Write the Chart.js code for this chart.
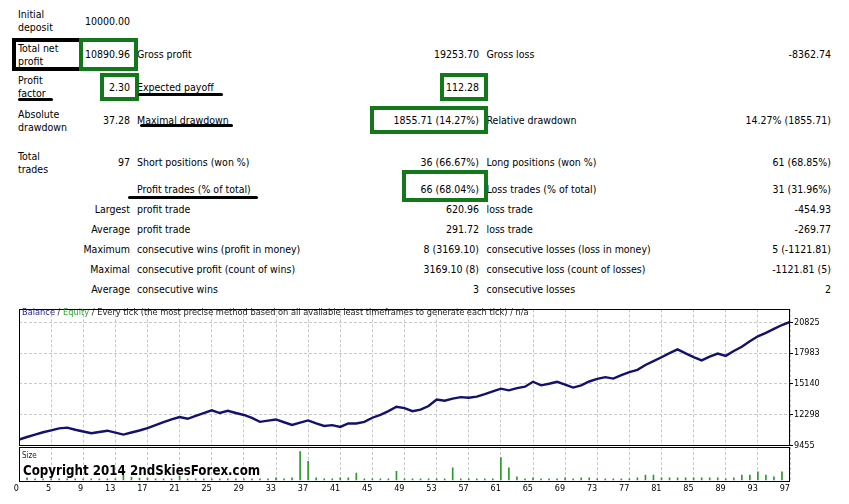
<!DOCTYPE html>
<html>
<head>
<meta charset="utf-8">
<script src="https://cdn.jsdelivr.net/npm/chart.js@4.4.1/dist/chart.umd.min.js"></script>
<style>
  body { margin: 0; background: #fff; width: 849px; height: 504px; position: relative; overflow: hidden;
         font-family: "DejaVu Sans Condensed", "Liberation Sans", sans-serif; color: #000; }
  .t { position: absolute; font-size: 10.5px; line-height: 12.6px; white-space: nowrap; }
  .box { position: absolute; box-sizing: border-box; border: 4px solid #13781a; }
  .bbox { position: absolute; box-sizing: border-box; border: 4px solid #000; border-right: none; }
  .ul { position: absolute; height: 3px; background: #000; border-radius: 2px; }
  canvas { position: absolute; left: 0; }
</style>
</head>
<body>
<div id="report"></div>
<canvas id="balanceChart" width="849" height="153" style="top:303px"></canvas>
<canvas id="sizeChart" width="849" height="53" style="top:447px"></canvas>
<div class="t" style="left:22px;top:306px;font-size:9.2px;line-height:11px;color:#1a1a1a" id="title">
  <span style="color:#24248a">Balance</span> / <span style="color:#3aa53a">Equity</span> / Every tick (the most precise method based on all available least timeframes to generate each tick) / n/a
</div>
<div class="t" style="left:22px;top:451px;font-size:8px;line-height:10px;color:#222">Size</div>
<div class="t" id="copy" style="left:23px;top:461px;font-size:14.5px;line-height:18px;font-weight:bold;transform:scaleX(0.91);transform-origin:0 50%">Copyright 2014 2ndSkiesForex.com</div>

<script>
// balance after each trade (trade 1..97)
const balance = [
  10000, 10238, 10466, 10679, 10855, 11040, 11100, 10908, 10748, 10588,
  10702, 10820, 10635, 10465, 10654, 10841, 11056, 11335, 11609, 11868,
  12085, 11920, 12180, 12440, 12705, 12450, 12650, 12450, 12270, 12000,
  11640, 11750, 11855, 11600, 11350, 11560, 11765, 11500, 11260, 11330,
  11170, 11490, 11490, 11640, 12015, 12290, 12630, 13030, 12900, 12620,
  12760, 13100, 13700, 13590, 13780, 13920, 13860, 13960, 14185, 14440,
  14700, 14540, 14750, 14880, 15335, 15005, 15150, 15330, 15080, 14800,
  15005, 15360, 15600, 15760, 15625, 15955, 16230, 16440, 16885, 17240,
  17600, 17975, 18320, 17950, 17610, 17310, 17650, 17930, 17725, 18180,
  18570, 19070, 19530, 19850, 20220, 20570, 20850
];
// position size per trade
const lots = [
  0.1, 0.2, 0.1, 0.1, 0.1, 0.1, 0.1, 0.1, 0.1, 0.1,
  0.1, 0.1, 0.1, 0.5, 0.27, 0.17, 0.17, 0.1, 0.1, 0.1,
  0.37, 0.1, 0.1, 0.1, 0.1, 0.1, 0.1, 0.1, 0.1, 0.1,
  0.1, 0.1, 0.2, 0.1, 0.2, 2.75, 1.8, 0.2, 0.1, 0.1,
  0.2, 0.2, 0.67, 0.1, 0.1, 0.1, 0.1, 0.83, 0.1, 0.1,
  0.1, 0.1, 0.1, 0.1, 1.17, 0.1, 0.1, 0.1, 0.1, 0.1,
  2.17, 1.17, 0.3, 0.1, 0.2, 0.1, 0.1, 0.1, 0.2, 0.1,
  0.2, 0.2, 0.1, 0.1, 0.1, 0.1, 0.1, 0.2, 0.47, 0.47,
  0.2, 0.2, 0.2, 0.2, 0.2, 0.2, 0.2, 0.2, 0.1, 0.2,
  0.47, 0.47, 0.8, 0.47, 0.3, 0.8, 0.3
];
const xTickLabels = ['0','5','9','13','17','21','25','29','33','37','41','45','49','53','57','61','65','69','73','77','81','85','89','93','97'];
const yTickValues = [9455, 12298, 15140, 17983, 20825];

// report rows: [y, leftLabel, value, midLabel, midValue, rightLabel, rightValue]
const rows = [
  [21,  'Initial|deposit',   '10000.00', '', '', '', ''],
  [54.5,'Total net|profit',  '10890.96', 'Gross profit', '19253.70', 'Gross loss', '-8362.74'],
  [87,  'Profit|factor',     '2.30', 'Expected payoff', '112.28', '', ''],
  [120.5,'Absolute|drawdown','37.28', 'Maximal drawdown', '1855.71 (14.27%)', 'Relative drawdown', '14.27% (1855.71)'],
  [162.5,'Total|trades',     '97', 'Short positions (won %)', '36 (66.67%)', 'Long positions (won %)', '61 (68.85%)'],
  [189, '', '', 'Profit trades (% of total)', '66 (68.04%)', 'Loss trades (% of total)', '31 (31.96%)'],
  [209, '', 'Largest', 'profit trade', '620.96', 'loss trade', '-454.93'],
  [229, '', 'Average', 'profit trade', '291.72', 'loss trade', '-269.77'],
  [249, '', 'Maximum', 'consecutive wins (profit in money)', '8 (3169.10)', 'consecutive losses (loss in money)', '5 (-1121.81)'],
  [269, '', 'Maximal', 'consecutive profit (count of wins)', '3169.10 (8)', 'consecutive loss (count of losses)', '-1121.81 (5)'],
  [289, '', 'Average', 'consecutive wins', '3', 'consecutive losses', '2']
];

const report = document.getElementById('report');
function put(text, x, y, right) {
  if (!text) return;
  const d = document.createElement('div');
  d.className = 't';
  d.textContent = text;
  d.style.top = (y - 6.3) + 'px';
  if (right) d.style.right = (849 - x) + 'px';
  else d.style.left = x + 'px';
  report.appendChild(d);
}
rows.forEach(r => {
  const [y, lab, val, m, mv, rl, rv] = r;
  if (lab) {
    const parts = lab.split('|');
    put(parts[0], 18, y - 6.3);
    put(parts[1], 18, y + 6.3);
  }
  put(val, 130, y, true);
  put(m, 137, y);
  put(mv, 479, y, true);
  put(rl, 486.5, y);
  put(rv, 831, y, true);
});

// highlight marks drawn over the report
function mark(cls, x, y, w, h) {
  const d = document.createElement('div');
  d.className = cls;
  Object.assign(d.style, { left: x + 'px', top: y + 'px', width: w + 'px', height: h + 'px' });
  report.appendChild(d);
}
mark('bbox', 12, 37.5, 70, 33);
mark('box', 79, 37.5, 59, 33);
mark('box', 100, 73, 39, 28);
mark('box', 440, 73, 48, 27.5);
mark('box', 370, 105.5, 118, 28);
mark('box', 402, 170, 86, 32);
mark('ul', 18, 97.5, 35, 3);
mark('ul', 138, 93, 85, 3);
mark('ul', 140, 124, 93, 3);
mark('ul', 128, 195.5, 130, 3);

const FONT = '"DejaVu Sans Condensed", "Liberation Sans", sans-serif';
const xTickPos = xTickLabels.map(l => Math.max(Number(l), 1));

const frame = {
  id: 'frame',
  afterDraw(chart) {
    const { ctx, chartArea: a } = chart;
    ctx.save();
    ctx.strokeStyle = '#000';
    ctx.lineWidth = 1;
    const x0 = Math.floor(a.left) + 0.5, y0 = Math.floor(a.top) + 0.5;
    const x1 = Math.ceil(a.right) - 0.5, y1 = Math.ceil(a.bottom) - 0.5;
    ctx.strokeRect(x0, y0, x1 - x0, y1 - y0);
    ctx.restore();
  }
};

const gridStyle = { color: '#c8c8c8', lineWidth: 1 };

new Chart(document.getElementById('balanceChart'), {
  type: 'line',
  data: {
    datasets: [{
      label: 'Balance',
      data: balance.map((v, i) => ({ x: i + 1, y: v })),
      borderColor: '#12126e',
      borderWidth: 2.4,
      pointRadius: 0,
      tension: 0,
      fill: false
    }]
  },
  options: {
    responsive: false,
    animation: false,
    layout: { padding: { left: 19, right: 0, top: 0, bottom: 10.5 } },
    plugins: { legend: { display: false }, tooltip: { enabled: false } },
    scales: {
      x: {
        type: 'linear', min: 1, max: 97,
        afterBuildTicks: s => { s.ticks = xTickPos.map(v => ({ value: v })); },
        ticks: { display: false },
        grid: { ...gridStyle, drawTicks: false },
        border: { display: false, dash: [3, 2] },
        afterFit: s => { s.height = 0; }
      },
      y: {
        position: 'right', min: 9455, max: 22010,
        afterBuildTicks: s => { s.ticks = yTickValues.map(v => ({ value: v })); },
        ticks: { color: '#000', font: { family: FONT, size: 9 }, padding: 1, callback: v => String(v) },
        grid: { ...gridStyle, tickColor: '#000', tickLength: 3 },
        border: { display: false, dash: [3, 2] },
        afterFit: s => { s.width = 59; }
      }
    }
  },
  plugins: [frame]
});

new Chart(document.getElementById('sizeChart'), {
  type: 'bar',
  data: {
    datasets: [{
      label: 'Size',
      data: lots.map((v, i) => ({ x: i + 1, y: v })),
      backgroundColor: '#2a9a2a',
      borderWidth: 0,
      barThickness: 1
    }]
  },
  options: {
    responsive: false,
    animation: false,
    layout: { padding: { left: 19, right: 59, top: 0, bottom: 0 } },
    plugins: { legend: { display: false }, tooltip: { enabled: false } },
    scales: {
      x: {
        type: 'linear', min: 1, max: 97, offset: false,
        afterBuildTicks: s => { s.ticks = xTickPos.map(v => ({ value: v })); },
        ticks: {
          color: '#000', font: { family: FONT, size: 9 }, padding: 2, align: 'end',
          maxRotation: 0, autoSkip: false, callback: (v, i) => xTickLabels[i]
        },
        grid: { ...gridStyle, drawTicks: false, offset: false },
        border: { display: false, dash: [3, 2] },
        afterFit: s => { s.height = 18.5; }
      },
      y: { display: false, min: -0.15, max: 3.2 }
    }
  },
  plugins: [frame]
});
</script>
</body>
</html>
